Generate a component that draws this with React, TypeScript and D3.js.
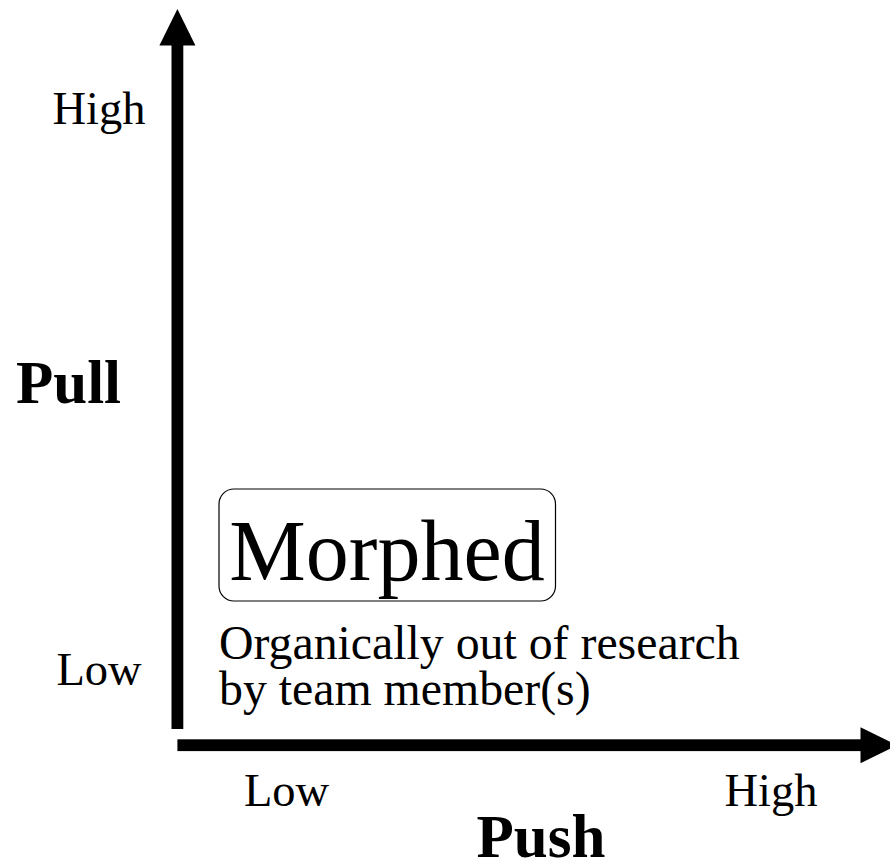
import React from "react";
import * as d3 from "d3";

const xLevels = ["Low", "High"];
const yLevels = ["Low", "High"];
const xAxisTitle = "Push";
const yAxisTitle = "Pull";
const boxTitle = "Morphed";
const boxDescription = ["Organically out of research", "by team member(s)"];

const W = 890;
const H = 864;
const FONT = "'Liberation Serif', 'Times New Roman', serif";

export default function App() {
  const originX = 177.4;
  const originY = 745.2;
  const topY = 9;
  const rightX = 897;
  const shaft = 11.8;
  const headW = 36;
  const headL = 36.5;

  const x = d3.scalePoint<string>().domain(xLevels).range([286.5, 771]);
  const y = d3.scalePoint<string>().domain(yLevels).range([685, 124]);

  const vHead = d3.path();
  vHead.moveTo(originX, topY);
  vHead.lineTo(originX + headW / 2, topY + headL);
  vHead.lineTo(originX - headW / 2, topY + headL);
  vHead.closePath();

  const hHead = d3.path();
  hHead.moveTo(rightX, originY);
  hHead.lineTo(rightX - headL, originY - headW / 2);
  hHead.lineTo(rightX - headL, originY + headW / 2);
  hHead.closePath();

  return (
    <svg
      width={W}
      height={H}
      style={{ position: "absolute", left: 0, top: 0, background: "#fff" }}
      fontFamily={FONT}
    >
      <rect x={0} y={0} width={W} height={H} fill="#fff" />
      {/* vertical axis */}
      <rect x={originX - shaft / 2} y={topY + headL - 1} width={shaft} height={729 - (topY + headL - 1)} fill="#000" />
      <path d={vHead.toString()} fill="#000" />
      {/* horizontal axis */}
      <rect x={originX} y={originY - shaft / 2} width={rightX - headL + 1 - originX} height={shaft} fill="#000" />
      <path d={hHead.toString()} fill="#000" />

      {yLevels.map((l) => (
        <text key={"y" + l} x={99} y={y(l)} textAnchor="middle" fontSize={46.5} fill="#000">
          {l}
        </text>
      ))}
      {xLevels.map((l) => (
        <text key={"x" + l} x={x(l)} y={805.5} textAnchor="middle" fontSize={46.5} fill="#000">
          {l}
        </text>
      ))}
      <text x={68.5} y={403} textAnchor="middle" fontSize={61} fontWeight="bold" fill="#000">
        {yAxisTitle}
      </text>
      <text x={541} y={857} textAnchor="middle" fontSize={61} fontWeight="bold" fill="#000">
        {xAxisTitle}
      </text>

      <rect x={219} y={489} width={336.5} height={112} rx={15} ry={15} fill="none" stroke="#000" strokeWidth={1.2} />
      <text x={387} y={580} textAnchor="middle" fontSize={86} fill="#000">
        {boxTitle}
      </text>
      <text x={219} y={659} fontSize={47.8} fill="#000">
        {boxDescription.map((line, i) => (
          <tspan key={i} x={219} dy={i === 0 ? 0 : 46}>
            {line}
          </tspan>
        ))}
      </text>
    </svg>
  );
}
